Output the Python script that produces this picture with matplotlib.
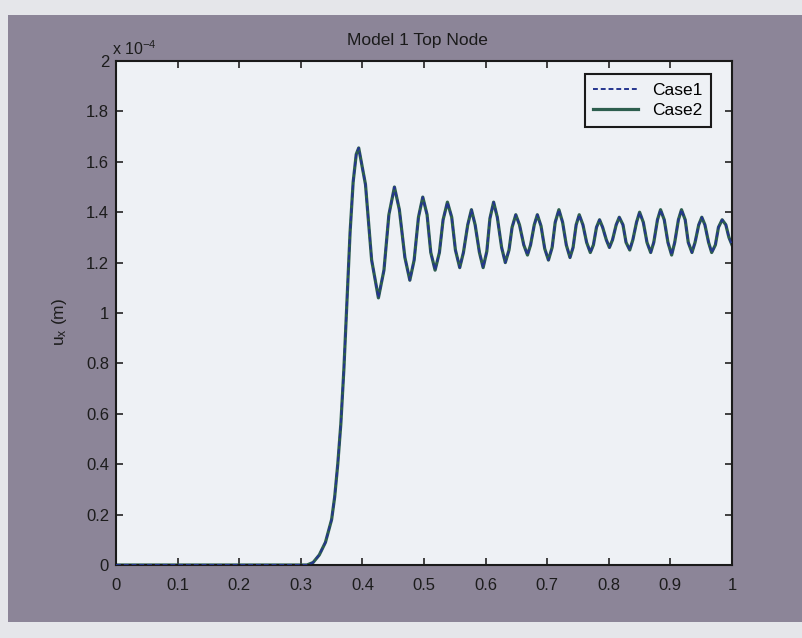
import matplotlib
matplotlib.use("Agg")
import matplotlib.pyplot as plt
from matplotlib.patches import Rectangle
from matplotlib.ticker import FuncFormatter

plt.rcParams['font.family'] = ['Liberation Sans', 'DejaVu Sans']
plt.rcParams['mathtext.default'] = 'regular'

title = "Model 1 Top Node"
ylabel = r"$u_x$ (m)"
series_names = ["Case1", "Case2"]

# time (s)
time = [0.0, 0.30, 0.31, 0.32, 0.33, 0.34, 0.35, 0.355, 0.36, 0.365, 0.37, 0.375, 0.38, 0.385, 0.39, 0.394,
        0.405, 0.415, 0.426,
        0.435, 0.443, 0.452,
        0.460, 0.469, 0.477,
        0.484, 0.491, 0.498,
        0.505, 0.511, 0.518,
        0.525, 0.531, 0.538,
        0.545, 0.551, 0.558,
        0.564, 0.571, 0.577,
        0.583, 0.590, 0.596,
        0.602, 0.607, 0.613,
        0.619, 0.626, 0.632,
        0.638, 0.643, 0.649,
        0.655, 0.662, 0.668,
        0.673, 0.679, 0.684,
        0.690, 0.696, 0.702,
        0.708, 0.713, 0.719,
        0.725, 0.731, 0.737,
        0.742, 0.747, 0.752,
        0.758, 0.764, 0.770,
        0.775, 0.780, 0.785,
        0.790, 0.796, 0.801,
        0.806, 0.812, 0.817,
        0.823, 0.828, 0.834,
        0.839, 0.845, 0.850,
        0.856, 0.862, 0.868,
        0.873, 0.879, 0.884,
        0.890, 0.896, 0.902,
        0.907, 0.913, 0.918,
        0.924, 0.929, 0.935,
        0.940, 0.946, 0.951,
        0.956, 0.962, 0.967,
        0.973, 0.978, 0.984,
        0.990, 0.995, 1.0]

# displacement, in units of 1e-4 m
case1_u = [0, 0, 0, 0.01, 0.04, 0.09, 0.18, 0.27, 0.40, 0.56, 0.78, 1.05, 1.32, 1.52, 1.63, 1.655,
           1.51, 1.21, 1.06,
           1.17, 1.39, 1.50,
           1.41, 1.22, 1.13,
           1.21, 1.38, 1.46,
           1.39, 1.24, 1.17,
           1.24, 1.37, 1.44,
           1.38, 1.25, 1.18,
           1.24, 1.35, 1.41,
           1.35, 1.24, 1.18,
           1.245, 1.375, 1.44,
           1.38, 1.26, 1.20,
           1.25, 1.34, 1.39,
           1.35, 1.27, 1.23,
           1.27, 1.35, 1.39,
           1.345, 1.255, 1.21,
           1.26, 1.36, 1.41,
           1.36, 1.27, 1.22,
           1.26, 1.35, 1.39,
           1.35, 1.28, 1.24,
           1.27, 1.34, 1.37,
           1.34, 1.29, 1.26,
           1.29, 1.35, 1.38,
           1.35, 1.28, 1.25,
           1.29, 1.36, 1.40,
           1.36, 1.28, 1.24,
           1.28, 1.37, 1.41,
           1.37, 1.28, 1.23,
           1.28, 1.37, 1.41,
           1.37, 1.28, 1.24,
           1.28, 1.35, 1.38,
           1.35, 1.28, 1.24,
           1.27, 1.34, 1.37,
           1.35, 1.30, 1.27]
case2_u = list(case1_u)

xticks = [0, 0.1, 0.2, 0.3, 0.4, 0.5, 0.6, 0.7, 0.8, 0.9, 1]
yticks = [0, 0.2, 0.4, 0.6, 0.8, 1.0, 1.2, 1.4, 1.6, 1.8, 2.0]
multiplier = r"x 10$^{-4}$"

W, H = 803, 638
fig = plt.figure(figsize=(W / 100, H / 100), dpi=100)
fig.patch.set_facecolor("#e5e6ea")
frame = Rectangle((8 / W, 1 - 622 / H), 1 - 8 / W, (622 - 15) / H,
                  transform=fig.transFigure, facecolor="#8c8598", edgecolor="none", zorder=-10)
fig.patches.append(frame)

ax = fig.add_axes([116 / W, 1 - 565 / H, (732 - 116) / W, (565 - 61) / H])
ax.set_zorder(2)
ax.set_facecolor("#eef1f5")

l2, = ax.plot(time, case2_u, color="#2d5e4e", lw=2.3, ls="-", label=series_names[1],
              zorder=2, solid_joinstyle="round")
l1, = ax.plot(time, case1_u, color="#25358f", lw=1.4, ls=(0, (2.5, 1.5)), label=series_names[0],
              zorder=3, dash_joinstyle="round")

ax.set_xlim(0, 1)
ax.set_ylim(0, 2)
ax.set_xticks(xticks)
ax.set_yticks(yticks)
fmt = FuncFormatter(lambda v, p: "%g" % v)
ax.xaxis.set_major_formatter(fmt)
ax.yaxis.set_major_formatter(fmt)
ax.tick_params(direction="in", length=5, width=1.2, top=True, right=True,
               labelsize=12, labelcolor="#1c1c1c", color="#222222")
ax.tick_params(axis="x", pad=9)
ax.tick_params(axis="y", pad=5)
for s in ax.spines.values():
    s.set_linewidth(1.5)
    s.set_color("#1a1a1a")

leg = ax.legend(handles=[l1, l2], loc="upper right", bbox_to_anchor=(0.975, 0.985),
                fontsize=12.5, frameon=True, fancybox=False, handlelength=2.6,
                borderpad=0.5, labelspacing=0.3, handletextpad=0.8, borderaxespad=0.3)
leg.get_frame().set_edgecolor("#1a1a1a")
leg.get_frame().set_linewidth(1.5)
leg.get_frame().set_facecolor("#eef1f5")
leg.get_frame().set_alpha(1)

fig.text(417 / W, 1 - 40 / H, title, ha="center", va="center", fontsize=12.5, color="#1a1a1a", zorder=3)
fig.text(112 / W, 1 - 49 / H, multiplier, ha="left", va="center", fontsize=11.5, color="#1c1c1c", zorder=3)
fig.text(60 / W, 1 - 322 / H, ylabel, ha="center", va="center", rotation=90, fontsize=12.5, color="#1c1c1c", zorder=3)

fig.savefig("out.png", dpi=100, facecolor=fig.get_facecolor())
